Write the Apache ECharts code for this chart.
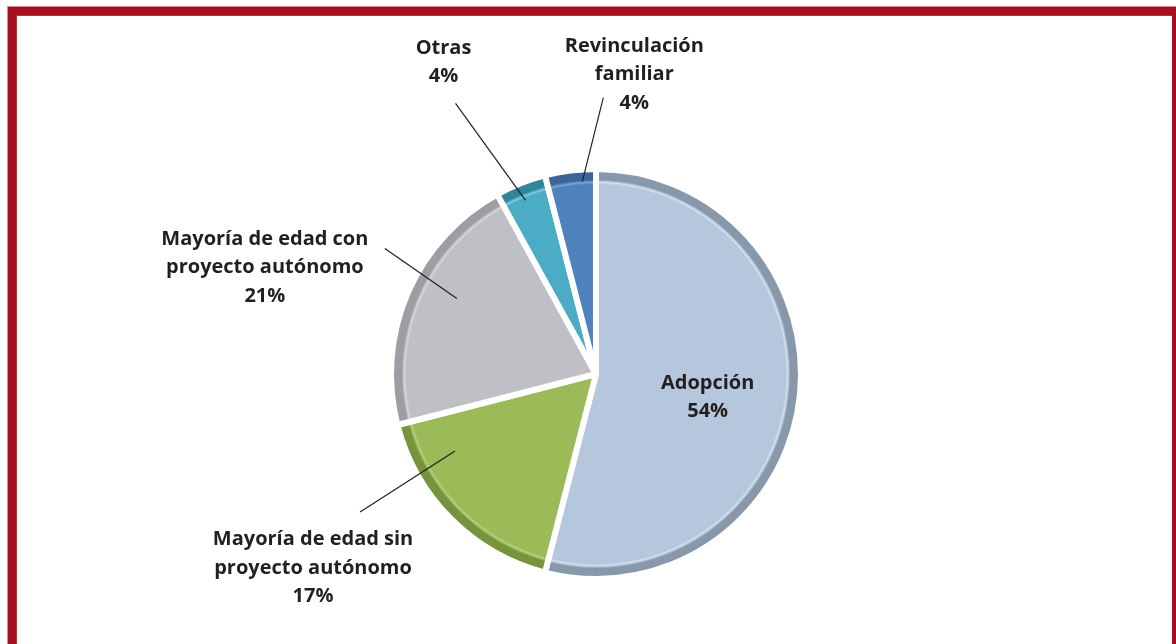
<!DOCTYPE html>
<html>
<head>
<meta charset="utf-8">
<title>Egresos</title>
<script src="https://cdn.jsdelivr.net/npm/echarts@6/dist/echarts.min.js"></script>
<style>
  html, body { margin: 0; padding: 0; width: 1176px; height: 644px; overflow: hidden; background: #fff; }
  .frame {
    position: absolute; left: 8px; top: 7px; width: 1172px; height: 720px;
    box-sizing: border-box; border: 8px solid #a50f1f;
    box-shadow: -1px -1px 0 #d98a92, inset 1px 1px 0 #c22b38;
  }
  #chart { position: absolute; left: 0; top: 0; width: 1176px; height: 644px; }
</style>
</head>
<body>
<div class="frame"></div>
<div id="chart"></div>
<script>
  // categories, clockwise from 12 o'clock
  const categories = [
    'Adopción',
    'Mayoría de edad sin\nproyecto autónomo',
    'Mayoría de edad con\nproyecto autónomo',
    'Otras',
    'Revinculación\nfamiliar'
  ]
  const shares = [54, 17, 21, 4, 4]

  // slice colours: face, light bevel line, dark rim
  const faces = ['#b4c7dc', '#9bbb59', '#bfc0c5', '#4bacc6', '#4f81bd']
  const lights = ['#d3e0ee', '#b4d27a', '#d6d7db', '#7fcbe0', '#7aa3d4']
  const rims = ['#8898ab', '#77933c', '#9d9ea3', '#31859c', '#3a6596']

  const center = [596, 374]
  const radius = 205

  // label spots, relative to the point where the library's label line leaves the slice
  const labelSpots = [
    { dx: 7, dy: 10 },
    { start: [4, -68], end: [-91, -7], text: [-138, 49] },
    { start: [49, 6], end: [-23, -44], text: [-143, -25] },
    { start: [5, 17], end: [-65, -80], text: [-77, -121] },
    { start: [12, 11], end: [33, -73], text: [64, -96] }
  ]

  function sliceColor(i) {
    return new echarts.graphic.RadialGradient(center[0], center[1], radius, [
      { offset: 0, color: faces[i] },
      { offset: 0.925, color: faces[i] },
      { offset: 0.935, color: lights[i] },
      { offset: 0.948, color: rims[i] },
      { offset: 1, color: rims[i] }
    ], true)
  }

  const chart = echarts.init(document.getElementById('chart'))

  const pieBase = {
    type: 'pie',
    center: center,
    radius: [0, radius],
    startAngle: 90,
    clockwise: true,
    avoidLabelOverlap: false,
    percentPrecision: 0,
    emphasis: { disabled: true },
    silent: true
  }

  const option = {
    animation: false,
    series: [
      // the slices
      Object.assign({}, pieBase, {
        z: 2,
        itemStyle: { borderColor: '#ffffff', borderWidth: 6 },
        label: { show: false },
        labelLine: { show: false },
        data: categories.map((name, i) => ({
          name: name,
          value: shares[i],
          itemStyle: { color: sliceColor(i) }
        }))
      }),
      // same slices, see-through, carrying the labels so the leader lines sit above the slices
      Object.assign({}, pieBase, {
        z: 3,
        itemStyle: { color: 'rgba(0,0,0,0)', borderWidth: 0 },
        label: {
          show: true,
          position: 'outside',
          formatter: '{b}\n{d}%',
          color: '#231f20',
          fontFamily: 'Open Sans',
          fontWeight: 'bold',
          fontSize: 20,
          lineHeight: 28.5,
          align: 'center'
        },
        labelLine: {
          show: true,
          length: 40,
          length2: 0,
          lineStyle: { color: '#231f20', width: 1.2 }
        },
        labelLayout: function (params) {
          const spot = labelSpots[params.dataIndex]
          if (!spot) return {}
          if (!spot.start) return { dx: spot.dx, dy: spot.dy }
          const pts = params.labelLinePoints
          if (!pts) return {}
          const p0 = pts[0]
          return {
            x: p0[0] + spot.text[0],
            y: p0[1] + spot.text[1],
            align: 'center',
            verticalAlign: 'middle',
            labelLinePoints: [
              [p0[0] + spot.start[0], p0[1] + spot.start[1]],
              [p0[0] + spot.end[0], p0[1] + spot.end[1]]
            ]
          }
        },
        data: categories.map((name, i) => ({
          name: name,
          value: shares[i],
          label: i === 0 ? { position: 'inside' } : {},
          labelLine: i === 0 ? { show: false } : {}
        }))
      })
    ]
  }

  chart.setOption(option)
</script>
</body>
</html>
